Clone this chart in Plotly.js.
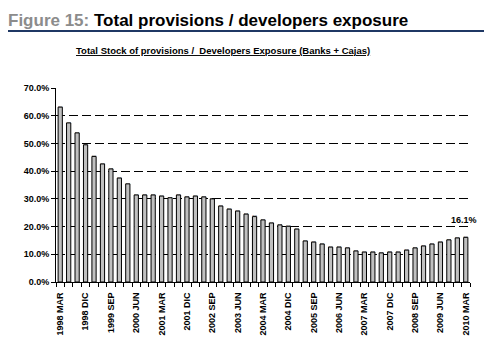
<!DOCTYPE html>
<html><head><meta charset="utf-8">
<script src="https://cdn.plot.ly/plotly-3.0.1.min.js"></script>
<style>html,body{margin:0;padding:0;background:#fff}#chart{width:495px;height:351px}</style>
</head><body><div id="chart"></div>
<script>
const years = ["1998","1999","2000","2001","2002","2003","2004","2005","2006","2007","2008","2009","2010"];
const quarters = ["MAR","JUN","SEP","DIC"];
const categories = [];
years.forEach(y => quarters.forEach(q => { if (categories.length < 49) categories.push(y + " " + q); }));
const values = [63.1, 57.4, 53.8, 49.5, 45.3, 42.6, 40.8, 37.5, 35.4, 31.4,
  31.4, 31.4, 31.0, 30.4, 31.4, 30.7, 31.0, 30.7, 30.0, 27.4,
  26.3, 25.6, 24.5, 23.6, 22.4, 21.3, 20.6, 20.1, 19.1, 14.8,
  14.4, 13.7, 12.6, 12.6, 12.3, 11.2, 10.8, 10.8, 10.5, 10.8,
  10.8, 11.5, 12.3, 13.0, 13.7, 14.4, 15.2, 15.9, 16.1];
const labelEvery = 3;
const yTicks = [0, 10, 20, 30, 40, 50, 60, 70];
const yTickText = yTicks.map(v => v.toFixed(1) + '%');

const idx = categories.map((_, i) => i);
const tickvals = idx.filter(i => i % labelEvery === 0);
const ticktext = tickvals.map(i => categories[i]);
const last = values.length - 1;

const trace = {
  type: 'bar', x: idx, y: values, text: categories, hoverinfo: 'text+y',
  marker: {color: '#c0c0c0', line: {color: '#000', width: 1}},
  width: 0.5
};

const layout = {
  width: 495, height: 351,
  margin: {l: 56, r: 25, t: 88, b: 69},
  paper_bgcolor: '#fff', plot_bgcolor: '#fff',
  showlegend: false,
  font: {family: 'Arial, "Liberation Sans", sans-serif', color: '#000'},
  title: {
    text: "<span style='color:#8c8c8c'>Figure 15:</span> Total provisions / developers exposure",
    font: {size: 17, family: 'Arial, "Liberation Sans", sans-serif', weight: 'bold', color: '#000'},
    xref: 'container', x: 8/495, xanchor: 'left', yref: 'container', y: 1 - 20/351, yanchor: 'middle'
  },
  xaxis: {
    range: [-0.5, values.length - 0.5],
    tickmode: 'array', tickvals: tickvals, ticktext: ticktext,
    tickangle: -90, ticks: '', ticklabelstandoff: 6,
    tickfont: {size: 9, weight: 'bold'},
    minor: {tickmode: 'linear', tick0: -0.5, dtick: 1, ticks: 'outside', ticklen: 4, tickcolor: '#000', showgrid: false},
    showline: true, linecolor: '#000', linewidth: 1,
    showgrid: false, zeroline: false, fixedrange: true
  },
  yaxis: {
    range: [0, 70], tickmode: 'array', tickvals: yTicks, ticktext: yTickText,
    ticks: 'outside', ticklen: 4, tickcolor: '#000',
    tickfont: {size: 9, weight: 'bold'},
    showline: true, linecolor: '#000', linewidth: 1,
    showgrid: true, gridcolor: '#000', gridwidth: 1, griddash: '9px,4px',
    zeroline: false, fixedrange: true
  },
  bargap: 0.5,
  shapes: [{
    type: 'line', xref: 'paper', yref: 'paper',
    x0: (8-56)/414, x1: (484-56)/414, y0: (282-31)/194, y1: (282-31)/194,
    line: {color: '#1f3864', width: 2}
  }],
  annotations: [
    {text: '<u>Total Stock of provisions /  Developers Exposure (Banks + Cajas)</u>',
     xref: 'paper', yref: 'paper', x: (223-56)/414, y: (282-50)/194,
     xanchor: 'center', yanchor: 'middle', showarrow: false,
     font: {size: 9.5, weight: 'bold'}},
    {text: values[last].toFixed(1) + '%', x: idx[last], y: values[last],
     xref: 'x', yref: 'y', xanchor: 'center', yanchor: 'bottom', yshift: 10, xshift: -2,
     showarrow: false, font: {size: 9, weight: 'bold'}}
  ]
};

Plotly.newPlot('chart', [trace], layout, {displayModeBar: false, staticPlot: true});
</script></body></html>
